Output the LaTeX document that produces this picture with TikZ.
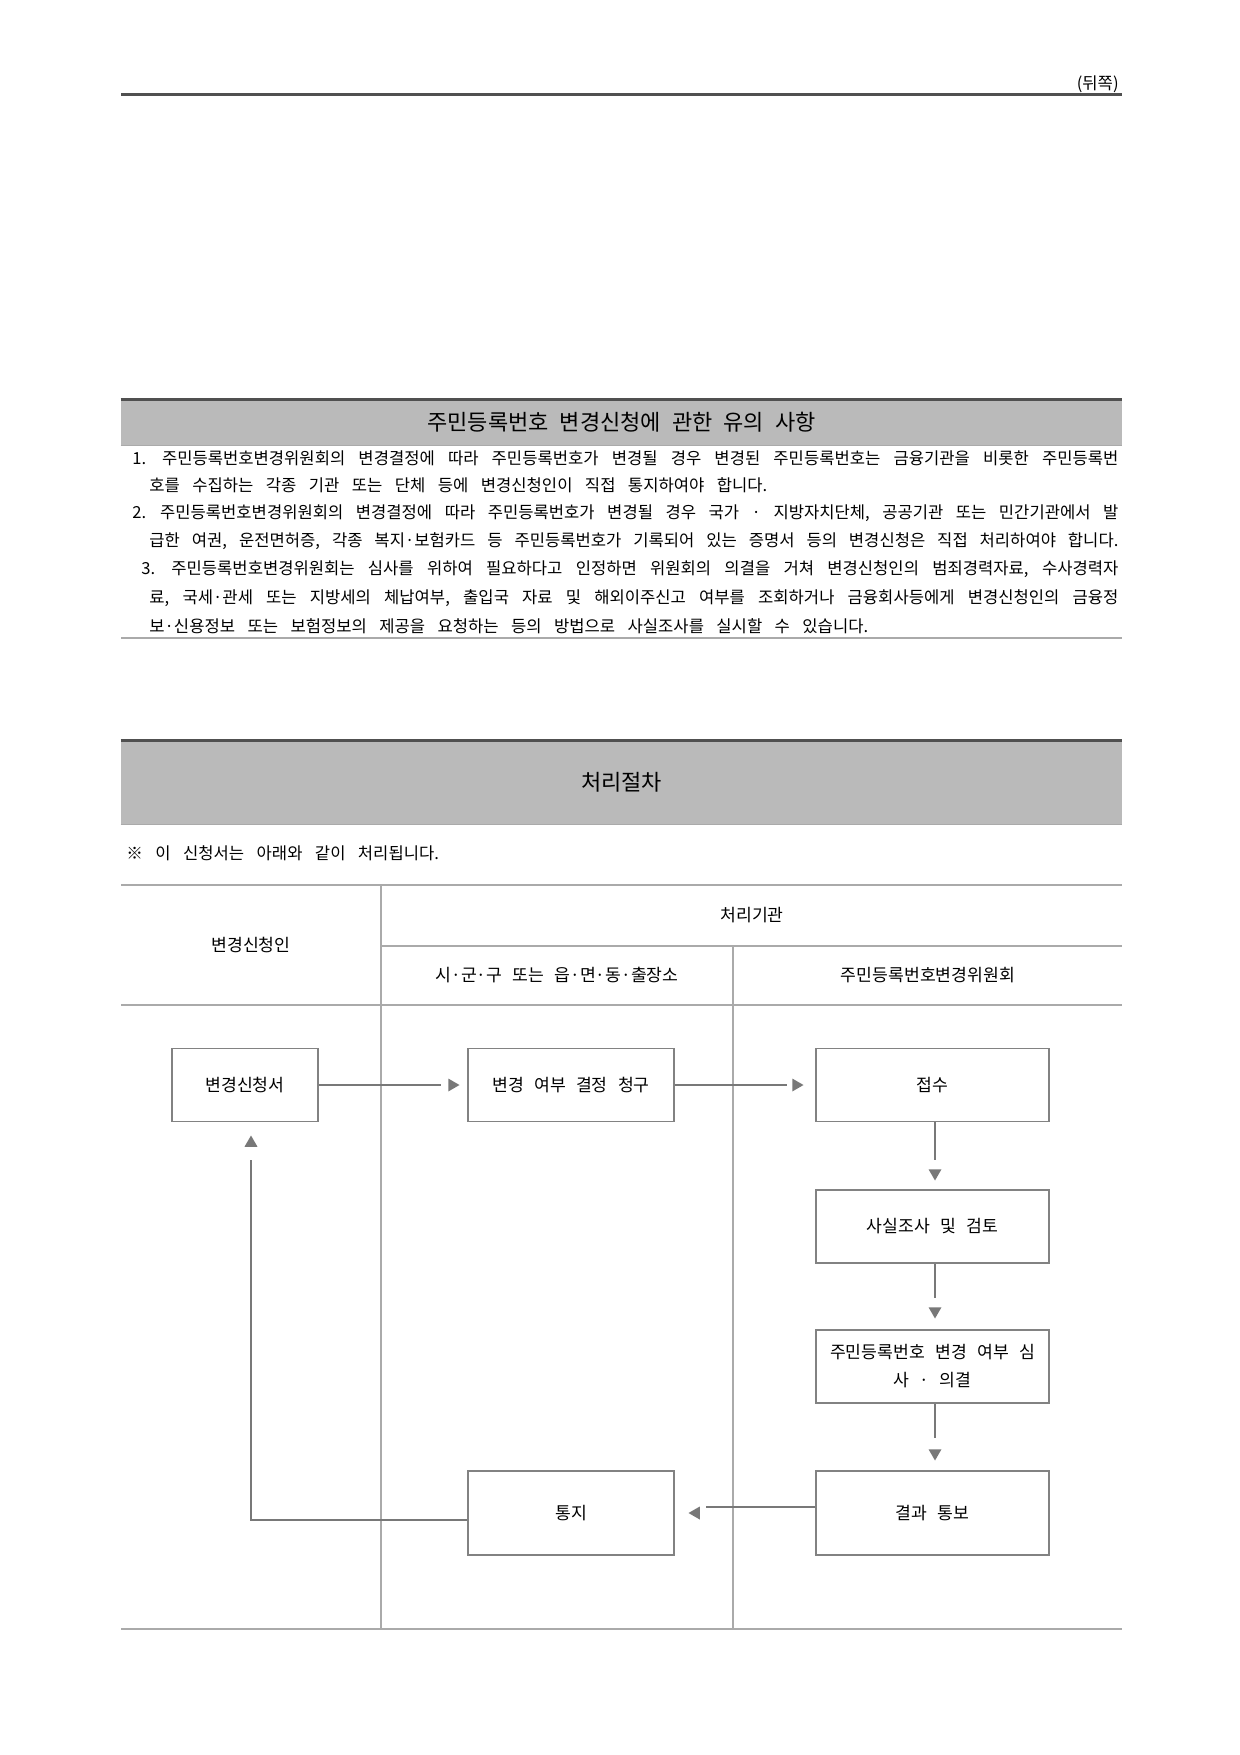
\documentclass[tikz,border=0pt]{standalone}
\usepackage{fontspec}
\setmainfont{Noto Sans CJK KR}
\usetikzlibrary{shapes.geometric}

\definecolor{headgray}{RGB}{186,186,186}
\definecolor{rulegray}{RGB}{80,80,80}
\definecolor{linegray}{RGB}{170,170,170}
\definecolor{boxgray}{RGB}{130,130,130}
\definecolor{flowgray}{RGB}{120,120,120}

\newcommand{\bodyfont}{\fontsize{8.3pt}{10pt}\selectfont\spaceskip=0.75em plus 0.5em minus 0.15em\relax}
\newcommand{\cellfont}{\fontsize{8.6pt}{10pt}\selectfont\spaceskip=0.6em plus 0.3em\relax}
\newcommand{\headfont}{\fontsize{11pt}{13pt}\selectfont\spaceskip=0.5em plus 0.3em\relax}
\newcommand{\spreadline}[2]{\makebox[#1][s]{#2}}

\begin{document}
\begin{tikzpicture}[x=0.5pt, y=-0.5pt, every node/.style={font=\bodyfont, inner sep=0pt},
	headbar/.style={fill=headgray, font=\headfont, minimum width=500.5pt},
	cell/.style={font=\cellfont},
	stepbox/.style={draw=boxgray, line width=0.7pt, minimum height=36.5pt, align=center, font=\cellfont},
	flow/.style={draw=flowgray, line width=0.6pt, shorten >=3pt},
	tipbase/.style={regular polygon, regular polygon sides=3, fill=flowgray, minimum size=7.5pt},
	tipR/.style={tipbase, rotate=-90}, tipL/.style={tipbase, rotate=90},
	tipD/.style={tipbase, rotate=180}, tipU/.style={tipbase}]
	\useasboundingbox (0,0) rectangle (1240,1755);

	% page head
	\node[anchor=east] (side) at (1119,84) {(뒤쪽)};
	\draw[rulegray, line width=1.5pt] (121,95) -- (1122,95);

	% notes
	\node[headbar, minimum height=22.5pt] (notehead) at (621.5,422.5) {주민등록번호 변경신청에 관한 유의 사항};
	\draw[rulegray, line width=1.6pt] (notehead.north west) -- (notehead.north east);
	\draw[linegray, line width=0.6pt] (notehead.south west) -- (notehead.south east);
	\node[anchor=west] (n1) at (132,458) {\spreadline{493pt}{1. 주민등록번호변경위원회의 변경결정에 따라 주민등록번호가 변경될 경우 변경된 주민등록번호는 금융기관을 비롯한 주민등록번}};
	\node[anchor=west] (n2) at (149,485) {호를 수집하는 각종 기관 또는 단체 등에 변경신청인이 직접 통지하여야 합니다.};
	\node[anchor=west] (n3) at (132,513) {\spreadline{493pt}{2. 주민등록번호변경위원회의 변경결정에 따라 주민등록번호가 변경될 경우 국가 · 지방자치단체, 공공기관 또는 민간기관에서 발}};
	\node[anchor=west] (n4) at (149,541) {\spreadline{484.5pt}{급한 여권, 운전면허증, 각종 복지·보험카드 등 주민등록번호가 기록되어 있는 증명서 등의 변경신청은 직접 처리하여야 합니다.}};
	\node[anchor=west] (n5) at (141,569) {\spreadline{488.5pt}{3. 주민등록번호변경위원회는 심사를 위하여 필요하다고 인정하면 위원회의 의결을 거쳐 변경신청인의 범죄경력자료, 수사경력자}};
	\node[anchor=west] (n6) at (149,598) {\spreadline{484.5pt}{료, 국세·관세 또는 지방세의 체납여부, 출입국 자료 및 해외이주신고 여부를 조회하거나 금융회사등에게 변경신청인의 금융정}};
	\node[anchor=west] (n7) at (149,626) {보·신용정보 또는 보험정보의 제공을 요청하는 등의 방법으로 사실조사를 실시할 수 있습니다.};
	\draw[linegray, line width=0.8pt] (121,638) -- (1122,638);

	% procedure
	\node[headbar, minimum height=41.5pt] (prochead) at (621.5,782.5) {처리절차};
	\draw[rulegray, line width=1.6pt] (prochead.north west) -- (prochead.north east);
	\draw[linegray, line width=0.6pt] (prochead.south west) -- (prochead.south east);
	\node[anchor=west] (memo) at (126,853) {※ 이 신청서는 아래와 같이 처리됩니다.};

	% table grid
	\draw[linegray, line width=0.8pt] (121,885) -- (1122,885) (381,946) -- (1122,946)
		(121,1005) -- (1122,1005) (121,1629) -- (1122,1629)
		(381,885) -- (381,1629) (733,946) -- (733,1629);
	\node[cell] (applicant) at (251,945) {변경신청인};
	\node[cell] (agency) at (752,915) {처리기관};
	\node[cell] (office) at (557,975) {시·군·구 또는 읍·면·동·출장소};
	\node[cell] (committee) at (928,975) {주민등록번호변경위원회};

	% steps
	\node[stepbox, minimum width=73pt] (form) at (245,1085) {변경신청서};
	\node[stepbox, minimum width=103pt] (claim) at (571,1085) {변경 여부 결정 청구};
	\node[stepbox, minimum width=116.5pt] (receipt) at (932.5,1085) {접수};
	\node[stepbox, minimum width=116.5pt] (review) at (932.5,1226.5) {사실조사 및 검토};
	\node[stepbox, minimum width=116.5pt] (deliberate) at (932.5,1366.5) {주민등록번호 변경 여부 심\\[4pt]사 · 의결};
	\node[stepbox, minimum width=116.5pt, minimum height=42pt] (result) at (932.5,1513) {결과 통보};
	\node[stepbox, minimum width=103pt, minimum height=42pt] (notice) at (571,1513) {통지};

	% arrow heads
	\node[tipR] (t1) at (452,1085) {};
	\node[tipR] (t2) at (796,1085) {};
	\node[tipD] (t3) at (935,1173) {};
	\node[tipD] (t4) at (935,1311) {};
	\node[tipD] (t5) at (935,1453) {};
	\node[tipL] (t6) at (696,1513) {};
	\node[tipU] (t7) at (251,1143) {};

	\draw[flow, shorten >=3.5pt] (form) -- (t1);
	\draw[flow, shorten >=2.5pt] (claim) -- (t2);
	\draw[flow, shorten >=4.5pt] (receipt.south -| t3) -- (t3);
	\draw[flow, shorten >=4.5pt] (review.south -| t4) -- (t4);
	\draw[flow, shorten >=5.5pt] (deliberate.south -| t5) -- (t5);
	\draw[flow, shorten >=5pt] ([yshift=3pt]result.west) -- ([yshift=3pt]t6.center);
	\draw[flow, shorten >=6.5pt] ([yshift=-3.5pt]notice.west) -| (t7);
\end{tikzpicture}
\end{document}
